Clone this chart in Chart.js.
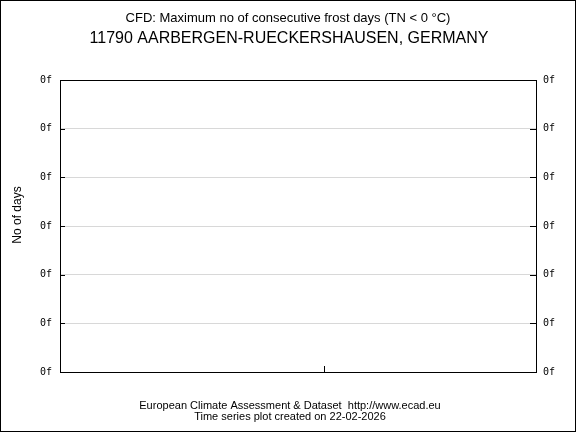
<!DOCTYPE html>
<html>
<head>
<meta charset="utf-8">
<script src="https://cdn.jsdelivr.net/npm/chart.js@4"></script>
<style>
  html, body { margin: 0; padding: 0; background: #fff; }
  #wrap { width: 576px; height: 432px; }
</style>
</head>
<body>
<div id="wrap"><canvas id="graphCanvas" width="576" height="432"></canvas></div>
<script>
// station has no data for this index -> empty series
const years = [];
const seriesValues = [];
const yTickValues = [0, 1, 2, 3, 4, 5, 6];
const yTickLabels = ['0f', '0f', '0f', '0f', '0f', '0f', '0f'];
const xTickValues = [0.555];

const titleLine1 = 'CFD: Maximum no of consecutive frost days (TN < 0 \u00b0C)';
const titleLine2 = '11790 AARBERGEN-RUECKERSHAUSEN, GERMANY';
const footerLine1 = 'European Climate Assessment & Dataset  http://www.ecad.eu';
const footerLine2 = 'Time series plot created on 22-02-2026';
const yTitle = 'No of days';

const sansFont = '"Liberation Sans", Arial, sans-serif';
const tickFont = '"DejaVu Sans Mono", monospace';

// draws frame, inward ticks and the header/footer text
const decorations = {
    id: 'decorations',
    afterDraw(chart) {
        const ctx = chart.ctx;
        const a = chart.chartArea;
        const y = chart.scales.y;
        const x = chart.scales.x;
        ctx.save();
        ctx.strokeStyle = '#000';
        ctx.lineWidth = 1;
        // outer border
        ctx.strokeRect(0.5, 0.5, chart.width - 1, chart.height - 1);
        // plot box
        ctx.strokeRect(Math.round(a.left) + 0.5, Math.round(a.top) + 0.5,
                       Math.round(a.right - a.left), Math.round(a.bottom - a.top));
        ctx.beginPath();
        yTickValues.forEach(function (v) {
            const py = Math.round(y.getPixelForValue(v)) + 0.5;
            ctx.moveTo(a.left, py); ctx.lineTo(a.left + 5, py);
            ctx.moveTo(a.right - 6, py); ctx.lineTo(a.right, py);
        });
        xTickValues.forEach(function (v) {
            const px = Math.round(x.getPixelForValue(v)) + 0.5;
            ctx.moveTo(px, a.bottom); ctx.lineTo(px, a.bottom - 6);
        });
        ctx.stroke();

        ctx.fillStyle = '#000';
        ctx.textAlign = 'center';
        ctx.textBaseline = 'middle';
        ctx.font = '13px ' + sansFont;
        ctx.fillText(titleLine1, 288, 18);
        ctx.font = '16px ' + sansFont;
        ctx.fillText(titleLine2, 289, 39);
        ctx.font = '11px ' + sansFont;
        ctx.fillText(footerLine1, 290, 406);
        ctx.fillText(footerLine2, 290, 417);

        ctx.translate(18, 215);
        ctx.rotate(-Math.PI / 2);
        ctx.font = '12px ' + sansFont;
        ctx.fillText(yTitle, 0, 0);
        ctx.restore();
    }
};

function showGraph()
{
    const graphTarget = document.getElementById('graphCanvas');
    new Chart(graphTarget, {
        type: 'line',
        data: {
            labels: years,
            datasets: [{
                label: 'CFD',
                data: seriesValues,
                borderColor: '#000',
                pointRadius: 0
            }]
        },
        plugins: [decorations],
        options: {
            responsive: false,
            animation: false,
            layout: { padding: { top: 80, bottom: 60, left: 0, right: 0 } },
            plugins: {
                legend: { display: false },
                tooltip: { enabled: false },
                title: { display: false }
            },
            scales: {
                x: {
                    type: 'linear',
                    min: 0,
                    max: 1,
                    ticks: { display: false },
                    grid: { display: false },
                    border: { display: false },
                    afterFit(scale) { scale.height = 0; }
                },
                y: {
                    position: 'left',
                    min: 0,
                    max: 6,
                    afterBuildTicks(scale) { scale.ticks = yTickValues.map(v => ({ value: v })); },
                    ticks: {
                        padding: 8,
                        color: '#000',
                        font: { family: tickFont, size: 10 },
                        callback: (v, i) => yTickLabels[i]
                    },
                    grid: { color: '#d8d8d8', drawTicks: false },
                    border: { display: false },
                    afterFit(scale) { scale.width = 60; }
                },
                y2: {
                    position: 'right',
                    min: 0,
                    max: 6,
                    afterBuildTicks(scale) { scale.ticks = yTickValues.map(v => ({ value: v })); },
                    ticks: {
                        padding: 7,
                        color: '#000',
                        font: { family: tickFont, size: 10 },
                        callback: (v, i) => yTickLabels[i]
                    },
                    grid: { display: false, drawTicks: false },
                    border: { display: false },
                    afterFit(scale) { scale.width = 40; }
                }
            }
        }
    });
}

showGraph();
</script>
</body>
</html>
